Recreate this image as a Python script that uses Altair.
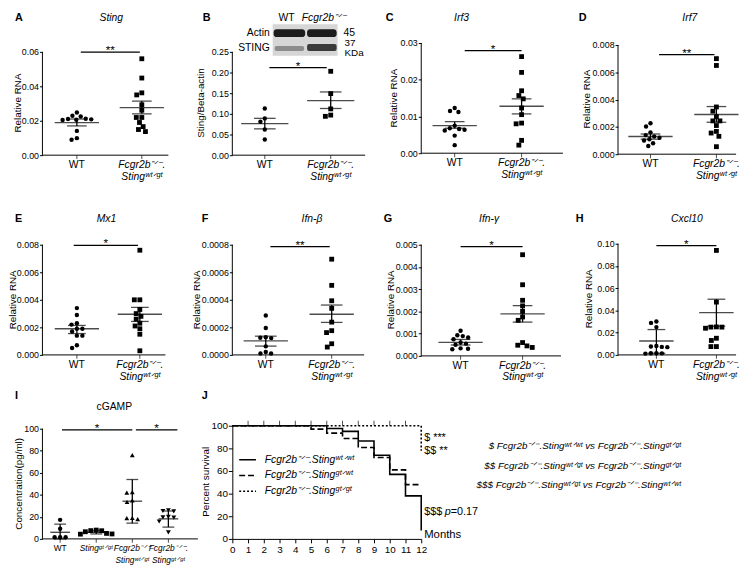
import math
import altair as alt
import pandas as pd

FONT = "Liberation Sans"
MM = "⁻ᐟ⁻"
S_WTWT, S_WTGT, S_GTGT, S_GTWT = "ʷᵗᐟʷᵗ", "ʷᵗᐟᵍᵗ", "ᵍᵗᐟᵍᵗ", "ᵍᵗᐟʷᵗ"
MUT_LAB = f"Fcgr2b{MM}.\nSting{S_WTGT}"

# ---------------- data ----------------
sting_wt = [0.0248, 0.0229, 0.0225, 0.0212, 0.0210, 0.0208, 0.0206, 0.0204, 0.0141, 0.0099, 0.0090]
sting_mut = [0.0560, 0.0448, 0.0362, 0.0350, 0.0293, 0.0261, 0.0219, 0.0219, 0.0190, 0.0166, 0.0149, 0.0137]
sting_mean, sting_lo, sting_hi = [0.0189, 0.0276], [0.0170, 0.0240], [0.0210, 0.0314]

blot_wt = [0.113, 0.089, 0.081, 0.062, 0.038]
blot_mut = [0.203, 0.149, 0.112, 0.097, 0.094]
blot_mean, blot_lo, blot_hi = [0.0764, 0.132], [0.0637, 0.113], [0.0892, 0.153]

irf3_wt = [0.0123, 0.0115, 0.0112, 0.0075, 0.0068, 0.0066, 0.0064, 0.0062, 0.0048, 0.0022]
irf3_mut = [0.0263, 0.0220, 0.0170, 0.0157, 0.0148, 0.0123, 0.0105, 0.0082, 0.0080, 0.0035, 0.0022]
irf3_mean, irf3_lo, irf3_hi = [0.0075, 0.0128], [0.0068, 0.0107], [0.0086, 0.0148]

irf7_wt = [0.00227, 0.00203, 0.0016, 0.0014, 0.0013, 0.0012, 0.0011, 0.0010, 0.0008, 0.0006]
irf7_mut = [0.0070, 0.0065, 0.00346, 0.00315, 0.00275, 0.00244, 0.00244, 0.0021, 0.00167, 0.00155, 0.00131, 0.00055]
irf7_mean, irf7_lo, irf7_hi = [0.00130, 0.00291], [0.00110, 0.00234], [0.00148, 0.00349]

mx1_wt = [0.0034, 0.0029, 0.0023, 0.0022, 0.0019, 0.0019, 0.0017, 0.0014, 0.0014, 0.0007, 0.0005]
mx1_mut = [0.0076, 0.0040, 0.0040, 0.0033, 0.0030, 0.0028, 0.0026, 0.0023, 0.0021, 0.0019, 0.0015, 0.0003]
mx1_mean, mx1_lo, mx1_hi = [0.0019, 0.00295], [0.00155, 0.00243], [0.00214, 0.00345]

ifnb_wt = [0.000286, 0.000195, 0.000128, 0.000125, 0.000122, 0.000062, 0.000021, 0.000010, 0.000010]
ifnb_mut = [0.000695, 0.000505, 0.000393, 0.000338, 0.000238, 0.000176, 0.000162, 0.000081, 0.000057]
ifnb_mean, ifnb_lo, ifnb_hi = [0.000102, 0.000295], [0.000064, 0.000236], [0.000136, 0.000362]

ifng_wt = [0.00113, 0.00093, 0.00089, 0.00083, 0.00075, 0.00060, 0.00055, 0.00050, 0.00034, 0.00032, 0.00030]
ifng_mut = [0.00455, 0.00320, 0.00250, 0.00225, 0.00200, 0.00175, 0.00160, 0.00060, 0.00048, 0.00045, 0.00038]
ifng_mean, ifng_lo, ifng_hi = [0.00061, 0.00189], [0.00049, 0.00152], [0.00074, 0.00226]

cxcl_wt = [0.0300, 0.0288, 0.0250, 0.0080, 0.0075, 0.0072, 0.0070, 0.0015, 0.0015, 0.0014, 0.0012]
cxcl_mut = [0.0940, 0.0475, 0.0252, 0.0250, 0.0250, 0.0240, 0.0150, 0.0130, 0.0075, 0.0075]
cxcl_mean, cxcl_lo, cxcl_hi = [0.0125, 0.0380], [0.0015, 0.0258], [0.0228, 0.0501]

cg_wt = [17.3, 9.2, 1.5, 1.5, 1.5]
cg_gtgt = [8.0, 7.5, 7.4, 6.5, 5.0, 4.5, 4.3]
cg_fc_wtgt = [76.0, 42.5, 42.0, 35.0, 33.5, 19.0, 18.8, 18.0]
cg_fc_gtgt = [26.0, 25.3, 25.0, 20.0, 19.5, 19.3, 15.8, 6.0]
cg_mean, cg_lo, cg_hi = [6.0, 6.0, 34.2, 18.2], [0.0, 4.5, 14.3, 10.7], [13.4, 7.7, 53.9, 25.3]

surv_m_wtwt = [0, 6, 7, 8, 9, 10, 11, 12]
surv_s_wtwt = [100, 97.6, 95, 86.5, 74, 57, 38, 7.4]
surv_m_gtwt = [0, 5, 6, 7, 8, 9, 10, 11, 12]
surv_s_gtwt = [100, 97, 93.5, 88.8, 80.8, 72, 61, 48, 48]
surv_m_gtgt = [0, 12, 12]
surv_s_gtgt = [100, 100, 78]
censor_months = [1, 2, 3, 4, 5, 6, 7, 8, 9, 10, 11]

SYMS = ["circle", "square", "triangle-up", "triangle-down"]
SYM_SIZE = {"circle": 20, "square": 24, "triangle-up": 24, "triangle-down": 24}


def swarm(vals, ky, d=5.6):
    order = sorted(range(len(vals)), key=lambda i: -vals[i])
    placed, offs = [], [0.0] * len(vals)
    for i in order:
        y = vals[i] * ky
        cands = [0.0]
        for (px, py) in placed:
            dy = abs(py - y)
            if dy < d:
                dx = math.sqrt(d * d - dy * dy)
                cands += [px + dx, px - dx]
        cands.sort(key=lambda c: (abs(c), c))
        for c in cands:
            if all((c - px) ** 2 + (y - py) ** 2 >= d * d - 1e-6 for px, py in placed):
                offs[i] = c
                placed.append((c, y))
                break
    return offs


ONE = pd.DataFrame({"a": [0]})


def txt(s, x, y, size=11, style="normal", weight="normal", align="center", baseline="middle", angle=0):
    kw = dict(text=s, font=FONT, fontSize=size, fontStyle=style, fontWeight=weight,
              align=align, baseline=baseline, color="black")
    if angle:
        kw["angle"] = angle
    return alt.Chart(ONE).mark_text(**kw).encode(x=alt.value(x), y=alt.value(y))


def panel(L):
    W, H = L["W"], L["H"]
    T = L["ticks"][-1]
    ky = (L["py0"] - L["pyT"]) / T
    ydom = [-(H - L["py0"]) / ky, T + L["pyT"] / ky]
    cp = L["cats"]
    n = len(L["groups"])
    kx = (cp[-1] - cp[0]) / (n - 1)
    xdom = [-cp[0] / kx, (W - cp[0]) / kx]
    xs = alt.Scale(domain=xdom, nice=False, zero=False)
    ys = alt.Scale(domain=ydom, nice=False, zero=False)

    def X(f):
        return alt.X(f, scale=xs, axis=None)

    def Y(f):
        return alt.Y(f, scale=ys, axis=None)

    rows = []
    for gi, (vals, sym) in enumerate(L["groups"]):
        for v, o in zip(vals, swarm(vals, ky)):
            rows.append({"xp": gi + o / kx, "v": v, "sym": sym, "sz": SYM_SIZE[sym]})
    pts_df = pd.DataFrame(rows)
    st = pd.DataFrame({"i": list(range(n)), "m": L["mean"], "lo": L["lo"], "hi": L["hi"]})

    yaxis = alt.Axis(values=L["ticks"], format=L["fmt"], domain=False, grid=False, ticks=True,
                     tickSize=3, tickColor="black", tickWidth=1, labelFont=FONT, labelFontSize=9,
                     labelColor="black", labelPadding=1, title=None)
    layers = []
    layers.append(alt.Chart(pts_df).mark_point(filled=True, opacity=1, color="black").encode(
        x=X("xp:Q"), y=alt.Y("v:Q", scale=ys, axis=yaxis),
        shape=alt.Shape("sym:N", scale=alt.Scale(domain=SYMS, range=SYMS), legend=None),
        size=alt.Size("sz:Q", scale=None)))
    layers.append(alt.Chart(ONE).mark_rule(color="black", strokeWidth=1).encode(
        x=alt.value(0), x2=alt.value(L["end"]), y=alt.YDatum(0, axis=None)))
    layers.append(alt.Chart(ONE).mark_rule(color="black", strokeWidth=1).encode(
        x=alt.value(0), y=alt.YDatum(0, axis=None), y2=alt.Y2Datum(T)))
    layers.append(alt.Chart(st).mark_tick(orient="vertical", size=4, thickness=1, color="black", yOffset=2).encode(
        x=X("i:Q"), y=alt.YDatum(0, axis=None)))
    base = alt.Chart(st)
    layers.append(base.mark_rule(color="black", strokeWidth=1.3).encode(x=X("i:Q"), y=Y("lo:Q"), y2="hi:Q"))
    layers.append(base.mark_tick(orient="horizontal", size=L["ml"], thickness=1.4, color="black").encode(x=X("i:Q"), y=Y("m:Q")))
    layers.append(base.mark_tick(orient="horizontal", size=L["cl"], thickness=1.3, color="black").encode(x=X("i:Q"), y=Y("lo:Q")))
    layers.append(base.mark_tick(orient="horizontal", size=L["cl"], thickness=1.3, color="black").encode(x=X("i:Q"), y=Y("hi:Q")))
    sg = pd.DataFrame(L["sig"], columns=["i0", "i1", "y", "s"])
    sg["mid"] = (sg["i0"] + sg["i1"]) / 2
    layers.append(alt.Chart(sg).mark_rule(color="black", strokeWidth=1.3).encode(x=X("i0:Q"), x2="i1:Q", y=Y("y:Q")))
    layers.append(alt.Chart(sg).mark_text(font=FONT, fontSize=12, baseline="alphabetic", dy=2, color="black").encode(
        x=X("mid:Q"), y=Y("y:Q"), text="s:N"))
    lab = pd.DataFrame({"i": list(range(n)), "lab": L["labels"], "it": L["ital"]})
    for style, flag in (("normal", False), ("italic", True)):
        sub = lab[lab["it"] == flag]
        if len(sub):
            layers.append(alt.Chart(sub).mark_text(font=FONT, fontSize=L.get("lfs", 10.5), fontStyle=style,
                                                    baseline="top", dy=5, lineBreak="\n", lineHeight=12,
                                                    color="black").encode(
                x=X("i:Q"), y=alt.YDatum(0, axis=None), text="lab:N"))
    lx, ly = L["letter"]
    layers.append(txt(L["letter_s"], lx, ly, size=11, weight="bold", align="left"))
    if L.get("title"):
        tx, ty = L["title_pos"]
        layers.append(txt(L["title"], tx, ty, size=10.5, style=L.get("title_style", "italic")))
    yx, yy = L["ytitle_pos"]
    layers.append(txt(L["ytitle"], yx, yy, size=10, angle=270))
    layers += L.get("extra", [])
    return alt.layer(*layers).resolve_axis(x="independent", y="independent").properties(width=W, height=H)


TOP = -25
R1, R2, R3 = 204, 185, 115
two_lab = ["WT", MUT_LAB]
two_it = [False, True]

blot = [
    alt.Chart(ONE).mark_rect(color="#d6d6d6").encode(x=alt.value(41), x2=alt.value(107), y=alt.value(-19), y2=alt.value(13)),
    alt.Chart(ONE).mark_rect(color="#1c1c1c", cornerRadius=3).encode(x=alt.value(42), x2=alt.value(74), y=alt.value(-14), y2=alt.value(-6)),
    alt.Chart(ONE).mark_rect(color="#1c1c1c", cornerRadius=3).encode(x=alt.value(76), x2=alt.value(106), y=alt.value(-14), y2=alt.value(-6)),
    alt.Chart(ONE).mark_rect(color="#8c8c8c", cornerRadius=2).encode(x=alt.value(43), x2=alt.value(73), y=alt.value(3), y2=alt.value(8)),
    alt.Chart(ONE).mark_rect(color="#3a3a3a", cornerRadius=2).encode(x=alt.value(76), x2=alt.value(106), y=alt.value(1), y2=alt.value(8)),
    txt("WT", 55, TOP, size=10.5),
    txt(f"Fcgr2b{MM}", 93, TOP, size=10.5, style="italic"),
    txt("Actin", 38, -10, size=10.5, align="right"),
    txt("STING", 38, 5, size=10.5, align="right"),
    txt("45", 113, -10, size=10.5, align="left"),
    txt("37", 114, 0, size=10, align="left"),
    txt("KDa", 114, 10, size=10, align="left"),
]

pA = panel(dict(W=192, H=R1, pyT=9, py0=114, cats=[35, 101], end=128, ticks=[0, 0.02, 0.04, 0.06], fmt=".2f",
                ml=45, cl=20, groups=[(sting_wt, "circle"), (sting_mut, "square")],
                mean=sting_mean, lo=sting_lo, hi=sting_hi, sig=[(0.06, 0.97, 0.0598, "**")],
                labels=two_lab, ital=two_it, letter_s="A", letter=(-28, TOP), title="Sting", title_pos=(70, TOP),
                ytitle="Relative RNA", ytitle_pos=(-25, 61)))
pB = panel(dict(W=184, H=R1, pyT=9, py0=114, cats=[33, 100], end=135, ticks=[0, 0.05, 0.10, 0.15, 0.20, 0.25],
                fmt=".2f", ml=48, cl=22, groups=[(blot_wt, "circle"), (blot_mut, "square")],
                mean=blot_mean, lo=blot_lo, hi=blot_hi, sig=[(0.07, 0.94, 0.212, "*")],
                labels=two_lab, ital=two_it, letter_s="B", letter=(-30, TOP),
                ytitle="Sting/Beta-actin", ytitle_pos=(-32, 61), extra=blot))
pC = panel(dict(W=199, H=R1, pyT=0, py0=112, cats=[34, 102], end=144, ticks=[0, 0.01, 0.02, 0.03], fmt=".2f",
                ml=45, cl=20, groups=[(irf3_wt, "circle"), (irf3_mut, "square")],
                mean=irf3_mean, lo=irf3_lo, hi=irf3_hi, sig=[(0.15, 1.0, 0.0279, "*")],
                labels=two_lab, ital=two_it, letter_s="C", letter=(-36, TOP), title="Irf3", title_pos=(41, TOP),
                ytitle="Relative RNA", ytitle_pos=(-28, 56)))
pD = panel(dict(W=120, H=R1, pyT=2, py0=113, cats=[33, 100], end=120, ticks=[0, 0.002, 0.004, 0.006, 0.008],
                fmt=".3f", ml=45, cl=20, groups=[(irf7_wt, "circle"), (irf7_mut, "square")],
                mean=irf7_mean, lo=irf7_lo, hi=irf7_hi, sig=[(0.13, 0.97, 0.00729, "**")],
                labels=two_lab, ital=two_it, letter_s="D", letter=(-40, TOP), title="Irf7", title_pos=(73, TOP),
                ytitle="Relative RNA", ytitle_pos=(-31, 57)))
pE = panel(dict(W=193, H=R2, pyT=1, py0=113, cats=[35, 99], end=125, ticks=[0, 0.002, 0.004, 0.006, 0.008],
                fmt=".3f", ml=45, cl=18, groups=[(mx1_wt, "circle"), (mx1_mut, "square")],
                mean=mx1_mean, lo=mx1_lo, hi=mx1_hi, sig=[(-0.05, 0.97, 0.00795, "*")],
                labels=two_lab, ital=two_it, letter_s="E", letter=(-28, TOP), title="Mx1", title_pos=(65, TOP),
                ytitle="Relative RNA", ytitle_pos=(-29.5, 57)))
pF = panel(dict(W=185, H=R2, pyT=1, py0=113, cats=[34, 101], end=134,
                ticks=[0, 0.0002, 0.0004, 0.0006, 0.0008], fmt=".4f", ml=45, cl=22,
                groups=[(ifnb_wt, "circle"), (ifnb_mut, "square")],
                mean=ifnb_mean, lo=ifnb_lo, hi=ifnb_hi, sig=[(0.07, 0.97, 0.000786, "**")],
                labels=two_lab, ital=two_it, letter_s="F", letter=(-31, TOP), title="Ifn-β", title_pos=(81, TOP),
                ytitle="Relative RNA", ytitle_pos=(-36, 57)))
pG = panel(dict(W=200, H=R2, pyT=1, py0=114, cats=[40, 103], end=142,
                ticks=[0, 0.001, 0.002, 0.003, 0.004, 0.005], fmt=".3f", ml=45, cl=20,
                groups=[(ifng_wt, "circle"), (ifng_mut, "square")],
                mean=ifng_mean, lo=ifng_lo, hi=ifng_hi, sig=[(0.0, 1.0, 0.00491, "*")],
                labels=two_lab, ital=two_it, letter_s="G", letter=(-38, TOP), title="Ifn-γ", title_pos=(69, TOP),
                ytitle="Relative RNA", ytitle_pos=(-31, 57)))
pH = panel(dict(W=120, H=R2, pyT=0, py0=113, cats=[39, 100], end=120,
                ticks=[0, 0.02, 0.04, 0.06, 0.08, 0.10], fmt=".2f", ml=35, cl=18,
                groups=[(cxcl_wt, "circle"), (cxcl_mut, "square")],
                mean=cxcl_mean, lo=cxcl_lo, hi=cxcl_hi, sig=[(0.0, 1.0, 0.0982, "*")],
                labels=two_lab, ital=two_it, letter_s="H", letter=(-43, TOP), title="Cxcl10", title_pos=(70, TOP),
                ytitle="Relative RNA", ytitle_pos=(-29, 56)))
pI = panel(dict(W=193, H=R3, pyT=3, py0=115, cats=[18, 128],
                end=158, ticks=[0, 20, 40, 60, 80, 100], fmt="d", ml=20, cl=12, lfs=8.5,
                groups=[(cg_wt, "circle"), (cg_gtgt, "square"), (cg_fc_wtgt, "triangle-up"),
                        (cg_fc_gtgt, "triangle-down")],
                mean=cg_mean, lo=cg_lo, hi=cg_hi, sig=[(0.05, 2.0, 99, "*"), (2.1, 3.25, 99, "*")],
                labels=["WT", f"Sting{S_GTGT}", f"Fcgr2b{MM}\nSting{S_WTGT}", f"Fcgr2b{MM}.\nSting{S_GTGT}"],
                ital=[False, True, True, True], letter_s="I", letter=(-28, -30), title="cGAMP",
                title_style="normal", title_pos=(73, -19),
                ytitle="Concentration(pg/ml)", ytitle_pos=(-24, 59)))

# ---------------- survival panel J ----------------
G1 = f"Fcgr2b{MM}.Sting{S_WTWT}"
G2 = f"Fcgr2b{MM}.Sting{S_GTWT}"
G3 = f"Fcgr2b{MM}.Sting{S_GTGT}"
surv_rows = []
for g, ms, ss in ((G1, surv_m_wtwt, surv_s_wtwt), (G2, surv_m_gtwt, surv_s_gtwt), (G3, surv_m_gtgt, surv_s_gtgt)):
    for o, (m, s) in enumerate(zip(ms, ss)):
        surv_rows.append({"m": m, "s": s, "g": g, "o": o})
surv_df = pd.DataFrame(surv_rows)
cens_df = pd.DataFrame({"m": censor_months, "s": [100] * len(censor_months)})

jx = alt.Scale(domain=[0, 12], nice=False, zero=False)
jy = alt.Scale(domain=[0, 100], nice=False, zero=False)
lines = alt.Chart(surv_df).mark_line(interpolate="step-after", color="black", strokeWidth=1.6).encode(
    x=alt.X("m:Q", scale=jx, axis=alt.Axis(values=list(range(13)), format="d", domainColor="black", domainWidth=1,
                                            tickColor="black", tickSize=4, labelFont=FONT, labelFontSize=10,
                                            labelColor="black", labelPadding=2, title=None, grid=False,
                                            labelFlush=False, labelOverlap=False)),
    y=alt.Y("s:Q", scale=jy, axis=alt.Axis(values=[0, 20, 40, 60, 80, 100], format="d", domainColor="black",
                                            domainWidth=1, tickColor="black", tickSize=4, labelFont=FONT,
                                            labelFontSize=10, labelColor="black", labelPadding=1, title=None,
                                            grid=False)),
    strokeDash=alt.StrokeDash("g:N", scale=alt.Scale(domain=[G1, G2, G3], range=[[1, 0], [6, 3], [2, 2]]),
                              legend=alt.Legend(orient="none", legendX=6, legendY=25, title=None,
                                                symbolType="stroke", symbolStrokeColor="black",
                                                symbolStrokeWidth=1.6, symbolSize=289, labelFont=FONT,
                                                labelFontSize=10.5, labelFontStyle="italic", labelColor="black",
                                                labelOffset=8, rowPadding=1)),
    order="o:Q")
cens = alt.Chart(cens_df).mark_tick(orient="vertical", size=5, thickness=1, color="black", yOffset=-2.5).encode(
    x=alt.X("m:Q", scale=jx, axis=None), y=alt.Y("s:Q", scale=jy, axis=None))
j_text = [
    txt("J", -31, -30, size=11, weight="bold", align="left"),
    txt("Percent survival", -27, 57, size=10, angle=270),
    txt("$ ***", 195, 13, align="left"),
    txt("$$ **", 195, 26, align="left"),
    txt("$$$ ", 195, 88, align="left"),
    txt("p", 216, 88, style="italic", align="left"),
    txt("=0.17", 222, 88, align="left"),
    txt("Months", 195, 111, size=11.5, align="left"),
    txt(f"$  {G1} vs {G3}", 456, 21, size=10, style="italic", align="right"),
    txt(f"$$  Fcgr2b{MM}.Sting{S_WTGT} vs {G3}", 456, 41, size=10, style="italic", align="right"),
    txt(f"$$$ Fcgr2b{MM}.Sting{S_WTGT} vs {G1}", 456, 60, size=10, style="italic", align="right"),
]
pJ = alt.layer(lines, cens, *j_text).resolve_axis(x="independent", y="independent").properties(width=192, height=R3)

chart = alt.concat(pA, pB, pC, pD, pE, pF, pG, pH, pI, pJ, columns=4, spacing=0, bounds="flush",
                   align="none").resolve_scale(shape="independent", strokeDash="independent").resolve_legend(
    strokeDash="independent").configure_view(stroke=None).properties(padding=0)

chart.save("out.html", embed_options={"renderer": "svg", "actions": False})
